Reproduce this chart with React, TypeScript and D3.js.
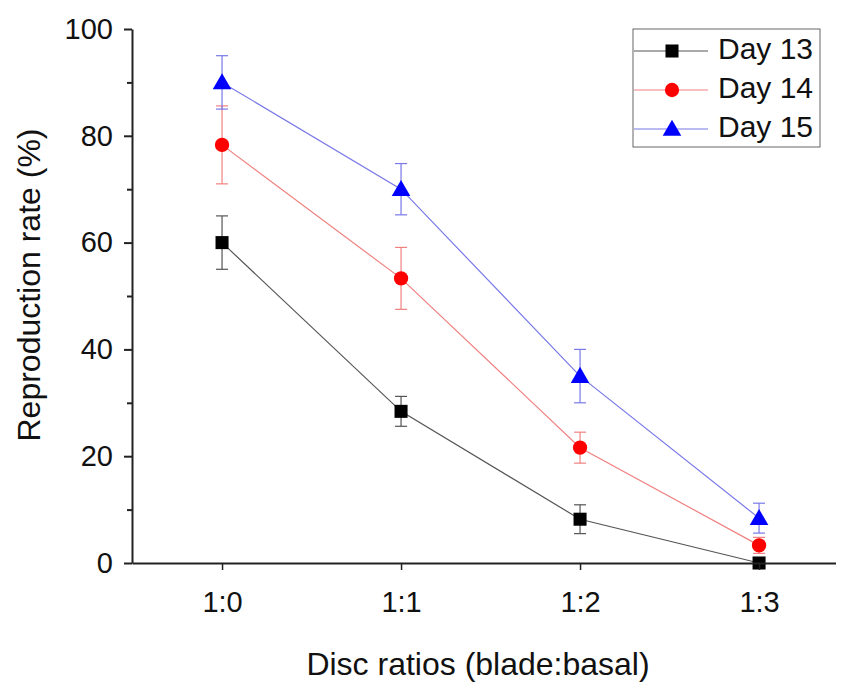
import { useEffect, useRef } from 'react';
import * as d3 from 'd3';

const ratios = ['1:0', '1:1', '1:2', '1:3'];
const yTicks = [0, 20, 40, 60, 80, 100];

const day13 = [60, 28.4, 8.2, 0];
const day13Err = [5, 2.8, 2.7, 0.5];
const day14 = [78.3, 53.3, 21.6, 3.3];
const day14Err = [7.3, 5.8, 2.9, 1.5];
const day15 = [90, 70, 35, 8.4];
const day15Err = [5, 4.8, 5, 2.8];

const series = [
	{ name: 'Day 13', values: day13, errs: day13Err, color: '#000000', line: '#555555', shape: 'square' },
	{ name: 'Day 14', values: day14, errs: day14Err, color: '#ff0000', line: '#f08080', shape: 'circle' },
	{ name: 'Day 15', values: day15, errs: day15Err, color: '#0000ff', line: '#7878e8', shape: 'triangle' },
];

const W = 844;
const H = 693;
const FONT = 'Liberation Sans, Arial, sans-serif';

const App = () => {
	const svgRef = useRef<SVGSVGElement>(null);

	useEffect(() => {
		const svg = d3.select(svgRef.current);
		svg.selectAll('*').remove();

		// plot frame in pixels
		const left = 132;
		const right = 838;
		const top = 29;
		const bottom = 563;

		const x = d3.scaleLinear().domain([-0.503, 3.441]).range([left, right]);
		const y = d3.scaleLinear().domain([0, 100]).range([bottom, top]);

		const symbolFor = (shape: string) => {
			if (shape === 'square') return d3.symbol(d3.symbolSquare, 170)();
			if (shape === 'circle') return d3.symbol(d3.symbolCircle, 160)();
			return d3.symbol(d3.symbolTriangle, 150)();
		};

		// lines
		series.forEach((s) => {
			const line = d3
				.line<number>()
				.x((_, i) => x(i))
				.y((d) => y(d));
			svg.append('path')
				.attr('d', line(s.values))
				.attr('fill', 'none')
				.attr('stroke', s.line)
				.attr('stroke-width', 1.2);
		});

		// error bars
		series.forEach((s) => {
			s.values.forEach((v, i) => {
				const e = s.errs[i];
				const g = svg.append('g').attr('stroke', s.line).attr('stroke-width', 1.2);
				const cx = x(i);
				g.append('line').attr('x1', cx).attr('x2', cx).attr('y1', y(v + e)).attr('y2', y(v - e));
				g.append('line').attr('x1', cx - 6).attr('x2', cx + 6).attr('y1', y(v + e)).attr('y2', y(v + e));
				g.append('line').attr('x1', cx - 6).attr('x2', cx + 6).attr('y1', y(v - e)).attr('y2', y(v - e));
			});
		});

		// markers
		series.forEach((s) => {
			svg.append('g')
				.selectAll('path')
				.data(s.values)
				.enter()
				.append('path')
				.attr('d', symbolFor(s.shape))
				.attr('transform', (d, i) => `translate(${x(i)}, ${y(d) + (s.shape === 'triangle' ? 1.5 : 0)})`)
				.attr('fill', s.color);
		});

		// y axis
		const yAxis = svg.append('g').attr('transform', `translate(${left},0)`);
		yAxis.append('g')
			.call(d3.axisLeft(y).tickValues(d3.range(10, 100, 20)).tickSize(5).tickFormat(() => ''))
			.call((g) => g.select('.domain').remove());
		yAxis.append('g')
			.call(d3.axisLeft(y).tickValues(yTicks).tickSize(8).tickSizeOuter(0).tickPadding(11))
			.call((g) => g.selectAll('text').attr('font-size', 29).attr('font-family', FONT).attr('fill', '#111'));
		yAxis.selectAll('line').attr('stroke', '#222').attr('stroke-width', 2);
		yAxis.selectAll('.domain').attr('stroke', '#222').attr('stroke-width', 2);

		// x axis
		const xAxis = svg.append('g').attr('transform', `translate(0,${bottom})`);
		xAxis.call(
			d3.axisBottom(x)
				.tickValues([0, 1, 2, 3])
				.tickSize(7)
				.tickSizeOuter(0)
				.tickPadding(21)
				.tickFormat((d) => ratios[d as number])
		);
		xAxis.selectAll('text').attr('font-size', 29).attr('font-family', FONT).attr('fill', '#111');
		xAxis.selectAll('line').attr('stroke', '#222').attr('stroke-width', 1.5);
		xAxis.select('.domain').attr('stroke', '#222').attr('stroke-width', 2);

		// axis titles
		svg.append('text')
			.attr('x', 478)
			.attr('y', 675)
			.attr('text-anchor', 'middle')
			.attr('font-size', 32)
			.attr('font-family', FONT)
			.attr('fill', '#111')
			.text('Disc ratios (blade:basal)');

		svg.append('text')
			.attr('transform', `translate(40, 285) rotate(-90)`)
			.attr('text-anchor', 'middle')
			.attr('font-size', 32)
			.attr('font-family', FONT)
			.attr('fill', '#111')
			.text('Reproduction rate (%)');

		// legend
		const lg = svg.append('g');
		lg.append('rect')
			.attr('x', 633)
			.attr('y', 29)
			.attr('width', 187)
			.attr('height', 118)
			.attr('fill', 'white')
			.attr('stroke', '#666')
			.attr('stroke-width', 1);
		series.forEach((s, i) => {
			const ly = 51 + i * 39;
			lg.append('line').attr('x1', 634).attr('x2', 708).attr('y1', ly).attr('y2', ly)
				.attr('stroke', s.line).attr('stroke-width', 1.2);
			lg.append('path').attr('d', symbolFor(s.shape))
				.attr('transform', `translate(672, ${ly + (s.shape === 'triangle' ? 1.5 : 0)})`)
				.attr('fill', s.color);
			lg.append('text')
				.attr('x', 718)
				.attr('y', ly + 8)
				.attr('font-size', 30)
				.attr('font-family', FONT)
				.attr('fill', '#111')
				.text(s.name);
		});
	}, []);

	return (
		<div style={{ margin: -8 }}>
			<svg ref={svgRef} width={W} height={H} style={{ display: 'block', background: 'white' }} />
		</div>
	);
};

export default App;
